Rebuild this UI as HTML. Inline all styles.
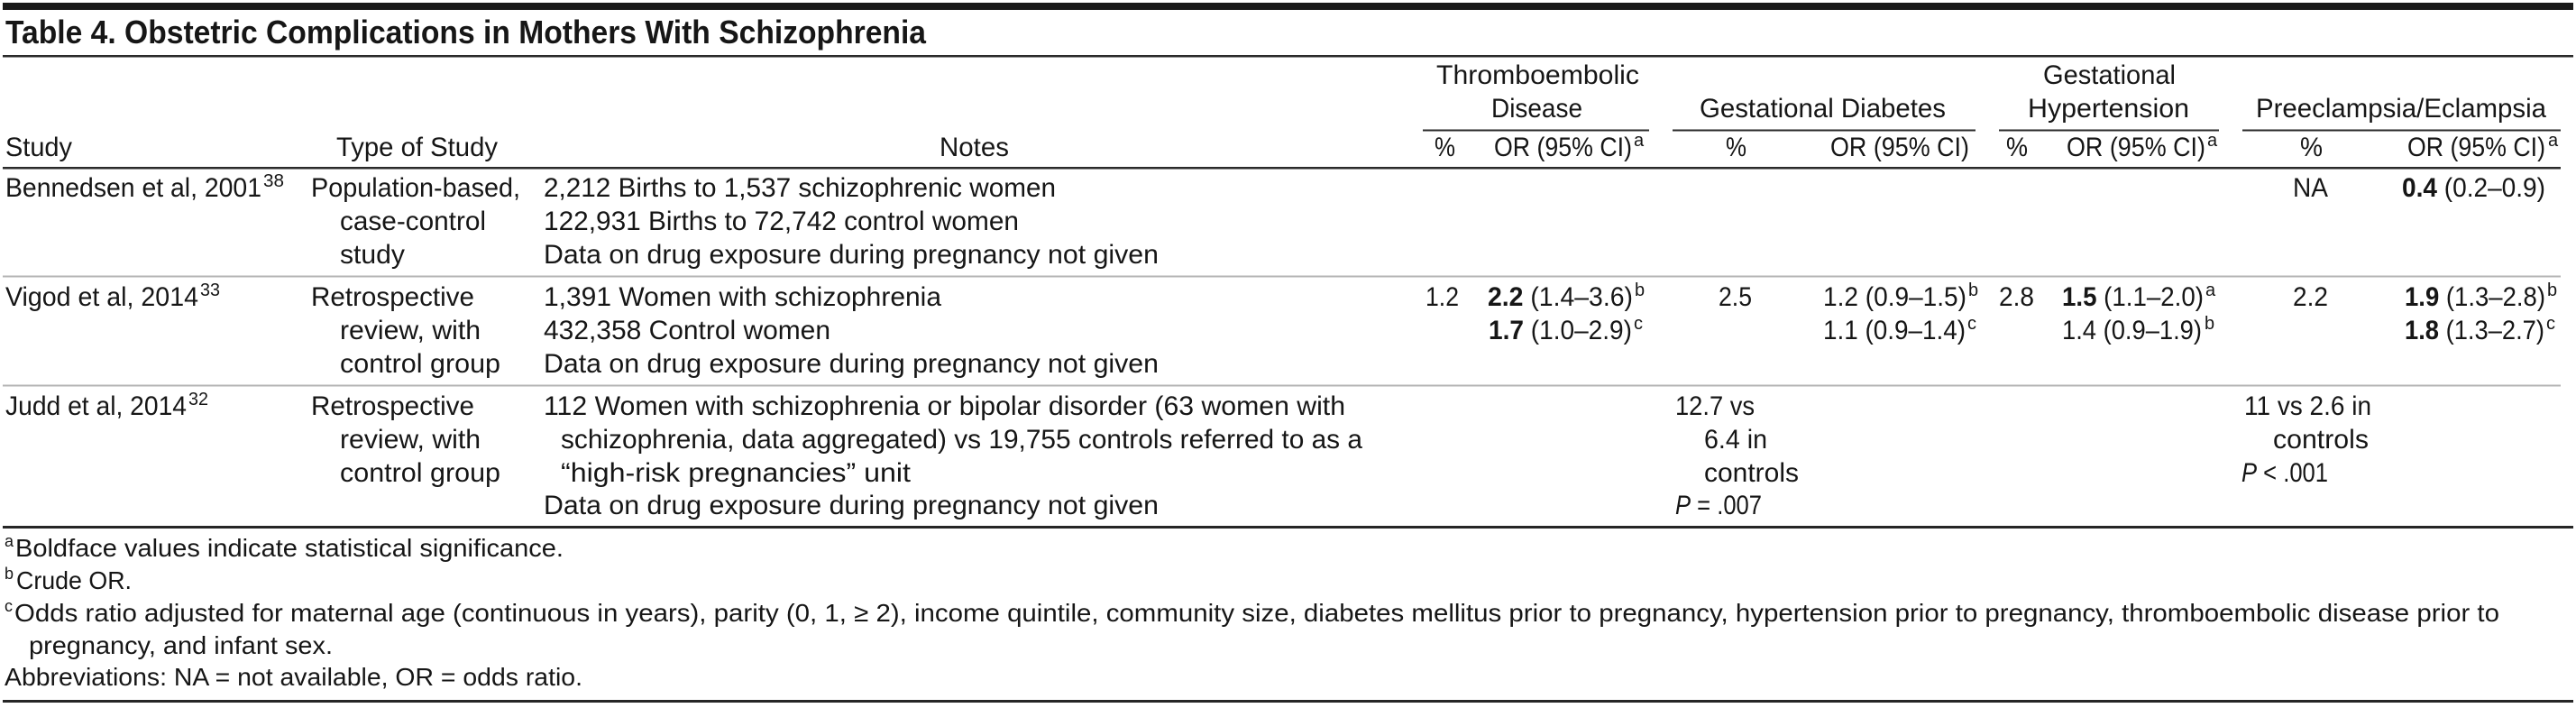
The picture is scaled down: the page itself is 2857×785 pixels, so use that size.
<!DOCTYPE html>
<html>
<head>
<meta charset="utf-8">
<style>
  html, body { margin:0; padding:0; background:#ffffff; }
  svg { display:block; }
  text { font-family: "Liberation Sans", "DejaVu Sans", sans-serif; fill:#161616; font-size:30px; }
  .t { font-size:36px; font-weight:bold; }
  .sp { font-size:20px; }
  .fn { font-size:28px; }
  .fs { font-size:18px; }
  .b { font-weight:bold; }
</style>
</head>
<body>
<svg width="2857" height="785" viewBox="0 0 2857 785" xmlns="http://www.w3.org/2000/svg">
  <!-- rules -->
  <rect x="3" y="3" width="2851" height="8" fill="#1a1a1a"/>
  <rect x="3" y="61" width="2851" height="2.5" fill="#2a2a2a"/>
  <rect x="1578" y="143.5" width="251" height="2" fill="#2a2a2a"/>
  <rect x="1855" y="143.5" width="336" height="2" fill="#2a2a2a"/>
  <rect x="2217" y="143.5" width="244" height="2" fill="#2a2a2a"/>
  <rect x="2487" y="143.5" width="353" height="2" fill="#2a2a2a"/>
  <rect x="3" y="185" width="2837" height="2.5" fill="#2a2a2a"/>
  <rect x="3" y="305.5" width="2837" height="2" fill="#b4b4b4"/>
  <rect x="3" y="426.5" width="2837" height="2" fill="#b4b4b4"/>
  <rect x="3" y="583" width="2851" height="3" fill="#262626"/>
  <rect x="3" y="776" width="2851" height="3" fill="#262626"/>

  <!-- title -->
  <text class="t" x="6" y="48" textLength="1021" lengthAdjust="spacingAndGlyphs">Table 4. Obstetric Complications in Mothers With Schizophrenia</text>

  <!-- group headers -->
  <text x="1593" y="93" textLength="225" lengthAdjust="spacingAndGlyphs">Thromboembolic</text>
  <text x="1654" y="130" textLength="101" lengthAdjust="spacingAndGlyphs">Disease</text>
  <text x="1885" y="130" textLength="273" lengthAdjust="spacingAndGlyphs">Gestational Diabetes</text>
  <text x="2266" y="93" textLength="147" lengthAdjust="spacingAndGlyphs">Gestational</text>
  <text x="2249" y="130" textLength="179" lengthAdjust="spacingAndGlyphs">Hypertension</text>
  <text x="2502" y="130" textLength="322" lengthAdjust="spacingAndGlyphs">Preeclampsia/Eclampsia</text>

  <!-- column headers -->
  <text x="6" y="173" textLength="74" lengthAdjust="spacingAndGlyphs">Study</text>
  <text x="373" y="173" textLength="179" lengthAdjust="spacingAndGlyphs">Type of Study</text>
  <text x="1042" y="173" textLength="77" lengthAdjust="spacingAndGlyphs">Notes</text>
  <text x="1591" y="173" textLength="23" lengthAdjust="spacingAndGlyphs">%</text>
  <text x="1657" y="173" textLength="153" lengthAdjust="spacingAndGlyphs">OR (95% CI)</text>
  <text class="sp" x="1812" y="162">a</text>
  <text x="1914" y="173" textLength="23" lengthAdjust="spacingAndGlyphs">%</text>
  <text x="2030" y="173" textLength="154" lengthAdjust="spacingAndGlyphs">OR (95% CI)</text>
  <text x="2225" y="173" textLength="24" lengthAdjust="spacingAndGlyphs">%</text>
  <text x="2292" y="173" textLength="154" lengthAdjust="spacingAndGlyphs">OR (95% CI)</text>
  <text class="sp" x="2448" y="162">a</text>
  <text x="2551" y="173" textLength="25" lengthAdjust="spacingAndGlyphs">%</text>
  <text x="2670" y="173" textLength="153" lengthAdjust="spacingAndGlyphs">OR (95% CI)</text>
  <text class="sp" x="2826" y="162">a</text>

  <!-- Row 1: Bennedsen -->
  <text x="6" y="218" textLength="284" lengthAdjust="spacingAndGlyphs">Bennedsen et al, 2001</text>
  <text class="sp" x="292" y="207" textLength="23" lengthAdjust="spacingAndGlyphs">38</text>
  <text x="345" y="218" textLength="232" lengthAdjust="spacingAndGlyphs">Population-based,</text>
  <text x="377" y="255" textLength="162" lengthAdjust="spacingAndGlyphs">case-control</text>
  <text x="377" y="292" textLength="72" lengthAdjust="spacingAndGlyphs">study</text>
  <text x="603" y="218" textLength="568" lengthAdjust="spacingAndGlyphs">2,212 Births to 1,537 schizophrenic women</text>
  <text x="603" y="255" textLength="527" lengthAdjust="spacingAndGlyphs">122,931 Births to 72,742 control women</text>
  <text x="603" y="292" textLength="682" lengthAdjust="spacingAndGlyphs">Data on drug exposure during pregnancy not given</text>
  <text x="2543" y="218" textLength="39" lengthAdjust="spacingAndGlyphs">NA</text>
  <text x="2664" y="218" textLength="159" lengthAdjust="spacingAndGlyphs"><tspan class="b">0.4</tspan> (0.2–0.9)</text>

  <!-- Row 2: Vigod -->
  <text x="6" y="339" textLength="214" lengthAdjust="spacingAndGlyphs">Vigod et al, 2014</text>
  <text class="sp" x="222" y="328" textLength="22" lengthAdjust="spacingAndGlyphs">33</text>
  <text x="345" y="339" textLength="181" lengthAdjust="spacingAndGlyphs">Retrospective</text>
  <text x="377" y="376" textLength="156" lengthAdjust="spacingAndGlyphs">review, with</text>
  <text x="377" y="413" textLength="178" lengthAdjust="spacingAndGlyphs">control group</text>
  <text x="603" y="339" textLength="441" lengthAdjust="spacingAndGlyphs">1,391 Women with schizophrenia</text>
  <text x="603" y="376" textLength="318" lengthAdjust="spacingAndGlyphs">432,358 Control women</text>
  <text x="603" y="413" textLength="682" lengthAdjust="spacingAndGlyphs">Data on drug exposure during pregnancy not given</text>

  <text x="1581" y="339" textLength="37" lengthAdjust="spacingAndGlyphs">1.2</text>
  <text x="1650" y="339" textLength="161" lengthAdjust="spacingAndGlyphs"><tspan class="b">2.2</tspan> (1.4–3.6)</text>
  <text class="sp" x="1813" y="328">b</text>
  <text x="1651" y="376" textLength="159" lengthAdjust="spacingAndGlyphs"><tspan class="b">1.7</tspan> (1.0–2.9)</text>
  <text class="sp" x="1812" y="365">c</text>

  <text x="1906" y="339" textLength="37" lengthAdjust="spacingAndGlyphs">2.5</text>
  <text x="2022" y="339" textLength="159" lengthAdjust="spacingAndGlyphs">1.2 (0.9–1.5)</text>
  <text class="sp" x="2183" y="328">b</text>
  <text x="2022" y="376" textLength="158" lengthAdjust="spacingAndGlyphs">1.1 (0.9–1.4)</text>
  <text class="sp" x="2182" y="365">c</text>

  <text x="2217" y="339" textLength="39" lengthAdjust="spacingAndGlyphs">2.8</text>
  <text x="2287" y="339" textLength="157" lengthAdjust="spacingAndGlyphs"><tspan class="b">1.5</tspan> (1.1–2.0)</text>
  <text class="sp" x="2446" y="328">a</text>
  <text x="2287" y="376" textLength="155" lengthAdjust="spacingAndGlyphs">1.4 (0.9–1.9)</text>
  <text class="sp" x="2445" y="365">b</text>

  <text x="2543" y="339" textLength="39" lengthAdjust="spacingAndGlyphs">2.2</text>
  <text x="2667" y="339" textLength="156" lengthAdjust="spacingAndGlyphs"><tspan class="b">1.9</tspan> (1.3–2.8)</text>
  <text class="sp" x="2825" y="328">b</text>
  <text x="2667" y="376" textLength="155" lengthAdjust="spacingAndGlyphs"><tspan class="b">1.8</tspan> (1.3–2.7)</text>
  <text class="sp" x="2824" y="365">c</text>

  <!-- Row 3: Judd -->
  <text x="6" y="460" textLength="201" lengthAdjust="spacingAndGlyphs">Judd et al, 2014</text>
  <text class="sp" x="209" y="449" textLength="22" lengthAdjust="spacingAndGlyphs">32</text>
  <text x="345" y="460" textLength="181" lengthAdjust="spacingAndGlyphs">Retrospective</text>
  <text x="377" y="497" textLength="156" lengthAdjust="spacingAndGlyphs">review, with</text>
  <text x="377" y="534" textLength="178" lengthAdjust="spacingAndGlyphs">control group</text>
  <text x="603" y="460" textLength="889" lengthAdjust="spacingAndGlyphs">112 Women with schizophrenia or bipolar disorder (63 women with</text>
  <text x="622" y="497" textLength="889" lengthAdjust="spacingAndGlyphs">schizophrenia, data aggregated) vs 19,755 controls referred to as a</text>
  <text x="622" y="534" textLength="388" lengthAdjust="spacingAndGlyphs">“high-risk pregnancies” unit</text>
  <text x="603" y="570" textLength="682" lengthAdjust="spacingAndGlyphs">Data on drug exposure during pregnancy not given</text>

  <text x="1858" y="460" textLength="88" lengthAdjust="spacingAndGlyphs">12.7 vs</text>
  <text x="1890" y="497" textLength="70" lengthAdjust="spacingAndGlyphs">6.4 in</text>
  <text x="1890" y="534" textLength="105" lengthAdjust="spacingAndGlyphs">controls</text>
  <text x="1858" y="570" textLength="96" lengthAdjust="spacingAndGlyphs"><tspan font-style="italic">P</tspan> = .007</text>

  <text x="2489" y="460" textLength="141" lengthAdjust="spacingAndGlyphs">11 vs 2.6 in</text>
  <text x="2521" y="497" textLength="106" lengthAdjust="spacingAndGlyphs">controls</text>
  <text x="2486" y="534" textLength="96" lengthAdjust="spacingAndGlyphs"><tspan font-style="italic">P</tspan> &lt; .001</text>

  <!-- footnotes -->
  <text class="fs" x="5" y="606">a</text>
  <text class="fn" x="17" y="617" textLength="608" lengthAdjust="spacingAndGlyphs">Boldface values indicate statistical significance.</text>
  <text class="fs" x="5" y="642">b</text>
  <text class="fn" x="18" y="653" textLength="128" lengthAdjust="spacingAndGlyphs">Crude OR.</text>
  <text class="fs" x="5" y="678">c</text>
  <text class="fn" x="16" y="689" textLength="2756" lengthAdjust="spacingAndGlyphs">Odds ratio adjusted for maternal age (continuous in years), parity (0, 1, ≥ 2), income quintile, community size, diabetes mellitus prior to pregnancy, hypertension prior to pregnancy, thromboembolic disease prior to</text>
  <text class="fn" x="32" y="725" textLength="337" lengthAdjust="spacingAndGlyphs">pregnancy, and infant sex.</text>
  <text class="fn" x="5" y="760" textLength="641" lengthAdjust="spacingAndGlyphs">Abbreviations: NA = not available, OR = odds ratio.</text>
</svg>
</body>
</html>
